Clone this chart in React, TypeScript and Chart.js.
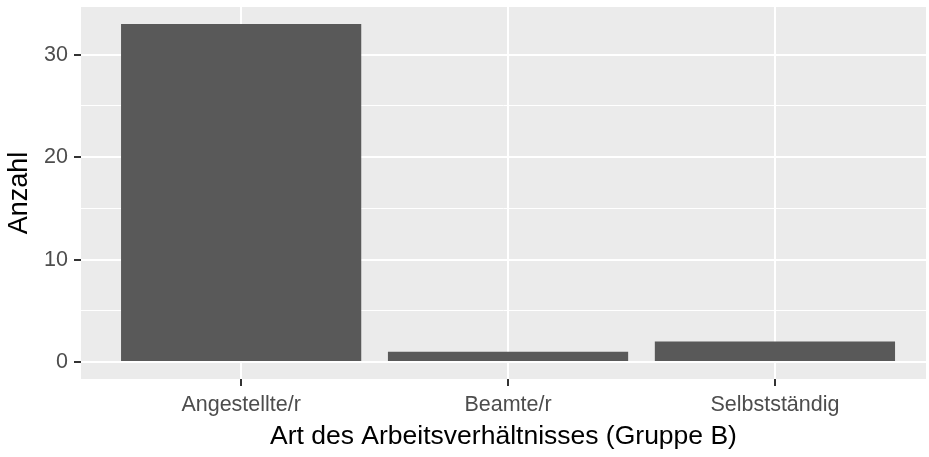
import React, { useEffect, useRef } from "react";
import { Chart, registerables } from "chart.js";

Chart.register(...registerables);

const categories: string[] = ["Angestellte/r", "Beamte/r", "Selbstständig"];
const counts: number[] = [33, 1, 2];
const yTicks: number[] = [0, 5, 10, 15, 20, 25, 30];
const xTitle = "Art des Arbeitsverhältnisses (Gruppe B)";
const yTitle = "Anzahl";

const FONT = "'Liberation Sans', Arial, sans-serif";

const panelBg = {
  id: "panelBg",
  beforeDraw(chart: any) {
    const { ctx, chartArea } = chart;
    ctx.save();
    ctx.fillStyle = "#EBEBEB";
    ctx.fillRect(chartArea.left, chartArea.top, chartArea.right - chartArea.left, chartArea.bottom - chartArea.top);
    ctx.restore();
  },
};

export default function App() {
  const ref = useRef<HTMLCanvasElement | null>(null);

  useEffect(() => {
    if (!ref.current) return;
    const data = categories.map((_, i) => ({ x: i + 1, y: counts[i] }));
    const chart = new Chart(ref.current, {
      type: "bar",
      data: {
        datasets: [
          {
            data: data as any,
            backgroundColor: "#595959",
            borderWidth: 0,
            barPercentage: 0.9,
            categoryPercentage: 1,
          },
        ],
      },
      options: {
        animation: false,
        responsive: false,
        maintainAspectRatio: false,
        devicePixelRatio: 1,
        layout: { padding: { top: 7, right: 3, left: 0, bottom: 0 } },
        plugins: { legend: { display: false }, tooltip: { enabled: false } },
        scales: {
          x: {
            type: "linear",
            min: 0.4,
            max: 3.566,
            offset: false,
            afterBuildTicks: (s: any) => {
              s.ticks = categories.map((_, i) => ({ value: i + 1 }));
            },
            afterFit: (s: any) => {
              s.height = 78;
              s.paddingLeft = 0;
              s.paddingRight = 0;
            },
            border: { display: false },
            grid: {
              offset: false,
              color: "#FFFFFF",
              lineWidth: 2,
              tickColor: "#333333",
              tickWidth: 2,
              tickLength: 7,
            },
            ticks: {
              padding: 6,
              color: "#4D4D4D",
              font: { family: FONT, size: 21.5 },
              maxRotation: 0,
              autoSkip: false,
              callback: (v: any) => categories[Number(v) - 1] ?? "",
            },
            title: {
              display: true,
              text: xTitle,
              color: "#000000",
              font: { family: FONT, size: 26.5 },
              padding: { top: 0, bottom: 4 },
            },
          },
          y: {
            type: "linear",
            min: -1.65,
            max: 34.65,
            afterBuildTicks: (s: any) => {
              s.ticks = yTicks.map((v) => ({ value: v }));
            },
            afterFit: (s: any) => {
              s.width = 81;
              s.paddingTop = 0;
              s.paddingBottom = 0;
            },
            border: { display: false },
            grid: {
              color: "#FFFFFF",
              lineWidth: (c: any) => (c.tick && c.tick.value % 10 === 0 ? 2 : 1),
              tickColor: (c: any) => (c.tick && c.tick.value % 10 === 0 ? "#333333" : "rgba(0,0,0,0)"),
              tickWidth: 2,
              tickLength: 7,
            },
            ticks: {
              padding: 6,
              color: "#4D4D4D",
              font: { family: FONT, size: 21.5 },
              autoSkip: false,
              callback: (v: any) => (Number(v) % 10 === 0 ? String(v) : ""),
            },
            title: {
              display: true,
              text: yTitle,
              color: "#000000",
              font: { family: FONT, size: 27 },
              padding: { top: 3, bottom: 0 },
            },
          },
        },
      },
      plugins: [panelBg],
    });
    return () => chart.destroy();
  }, []);

  return (
    <div style={{ position: "absolute", left: 0, top: 0, width: 929, height: 457, background: "#FFFFFF" }}>
      <canvas ref={ref} width={929} height={457} style={{ display: "block", width: 929, height: 457 }} />
    </div>
  );
}
